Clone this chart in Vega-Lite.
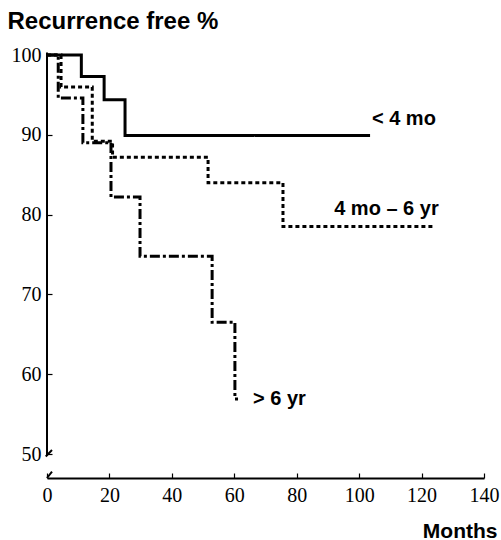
{
  "$schema": "https://vega.github.io/schema/vega-lite/v6.json",
  "width": 437,
  "height": 423,
  "autosize": {"type": "none"},
  "padding": {"left": 47, "top": 55, "right": 17, "bottom": 62},
  "background": "white",
  "config": {"view": {"stroke": null}},
  "datasets": {
    "curves": [
      {"series": "< 4 mo", "month": 0, "pct": 100},
      {"series": "< 4 mo", "month": 11, "pct": 97.3},
      {"series": "< 4 mo", "month": 18.3, "pct": 94.4},
      {"series": "< 4 mo", "month": 25, "pct": 89.9},
      {"series": "< 4 mo", "month": 103.5, "pct": 89.9},
      {"series": "4 mo - 6 yr", "month": 0, "pct": 100},
      {"series": "4 mo - 6 yr", "month": 4.5, "pct": 96.0},
      {"series": "4 mo - 6 yr", "month": 14.5, "pct": 89.2},
      {"series": "4 mo - 6 yr", "month": 21, "pct": 87.2},
      {"series": "4 mo - 6 yr", "month": 51.6, "pct": 84.0},
      {"series": "4 mo - 6 yr", "month": 75.6, "pct": 78.5},
      {"series": "4 mo - 6 yr", "month": 124, "pct": 78.5},
      {"series": "> 6 yr", "month": 0, "pct": 100},
      {"series": "> 6 yr", "month": 3.6, "pct": 94.6},
      {"series": "> 6 yr", "month": 11.5, "pct": 89.0},
      {"series": "> 6 yr", "month": 20.5, "pct": 82.2},
      {"series": "> 6 yr", "month": 29.8, "pct": 74.8},
      {"series": "> 6 yr", "month": 52.9, "pct": 66.5},
      {"series": "> 6 yr", "month": 60.2, "pct": 56.9},
      {"series": "> 6 yr", "month": 61.2, "pct": 56.9}
    ],
    "labels": [
      {"label": "< 4 mo", "month": 104.1, "pct": 91.2},
      {"label": "4 mo – 6 yr", "month": 92.0, "pct": 80.0},
      {"label": "> 6 yr", "month": 66.0, "pct": 56.1}
    ],
    "rules": [
      {"month": 0, "month2": 0, "pct": 49.8, "pct2": 100.3},
      {"month": -0.4, "month2": 1.6, "pct": 49.7, "pct2": 50.5},
      {"month": 0, "month2": 1.6, "pct": 47.0, "pct2": 47.8}
    ]
  },
  "layer": [
    {
      "data": {"name": "curves"},
      "mark": {"type": "line", "interpolate": "step-after", "strokeWidth": 3, "color": "black", "strokeCap": "butt"},
      "encoding": {
        "x": {
          "field": "month", "type": "quantitative",
          "scale": {"domain": [0, 140], "nice": false, "zero": false},
          "axis": {
            "values": [0, 20, 40, 60, 80, 100, 120, 140],
            "grid": false,
            "domainColor": "black", "domainWidth": 2,
            "tickColor": "black", "tickSize": -5, "tickWidth": 1.2,
            "labelFont": "Liberation Serif", "labelFontSize": 20, "labelColor": "black",
            "labelPadding": 12, "labelFlush": false,
            "title": "Months",
            "titleFont": "Liberation Sans", "titleFontSize": 21, "titleFontWeight": "bold", "titleColor": "black",
            "titleX": 450, "titleY": 59, "titleAlign": "right", "titleBaseline": "alphabetic", "titleAnchor": null
          }
        },
        "y": {
          "field": "pct", "type": "quantitative",
          "scale": {"domain": [47, 100], "nice": false, "zero": false},
          "axis": {
            "values": [50, 60, 70, 80, 90, 100],
            "grid": false,
            "domain": false,
            "tickColor": "black", "tickSize": -5, "tickWidth": 1.2,
            "labelFont": "Liberation Serif", "labelFontSize": 20, "labelColor": "black",
            "labelPadding": 11, "labelFlush": false,
            "title": "Recurrence free %",
            "titleFont": "Liberation Sans", "titleFontSize": 24, "titleFontWeight": "bold", "titleColor": "black",
            "titleAngle": 0, "titleX": -40, "titleY": -27, "titleAlign": "left", "titleBaseline": "alphabetic", "titleAnchor": null
          }
        },
        "detail": {"field": "series"},
        "strokeDash": {
          "field": "series", "type": "nominal",
          "scale": {"domain": ["< 4 mo", "4 mo - 6 yr", "> 6 yr"], "range": [[1, 0], [4, 3], [10, 3, 3, 3]]},
          "legend": null
        }
      }
    },
    {
      "data": {"name": "rules"},
      "mark": {"type": "rule", "color": "black", "strokeWidth": 2},
      "encoding": {
        "x": {"field": "month", "type": "quantitative"},
        "x2": {"field": "month2"},
        "y": {"field": "pct", "type": "quantitative"},
        "y2": {"field": "pct2"}
      }
    },
    {
      "data": {"name": "labels"},
      "mark": {"type": "text", "align": "left", "baseline": "alphabetic", "font": "Liberation Sans", "fontSize": 20, "fontWeight": "bold", "color": "black"},
      "encoding": {
        "x": {"field": "month", "type": "quantitative"},
        "y": {"field": "pct", "type": "quantitative"},
        "text": {"field": "label"}
      }
    }
  ]
}
